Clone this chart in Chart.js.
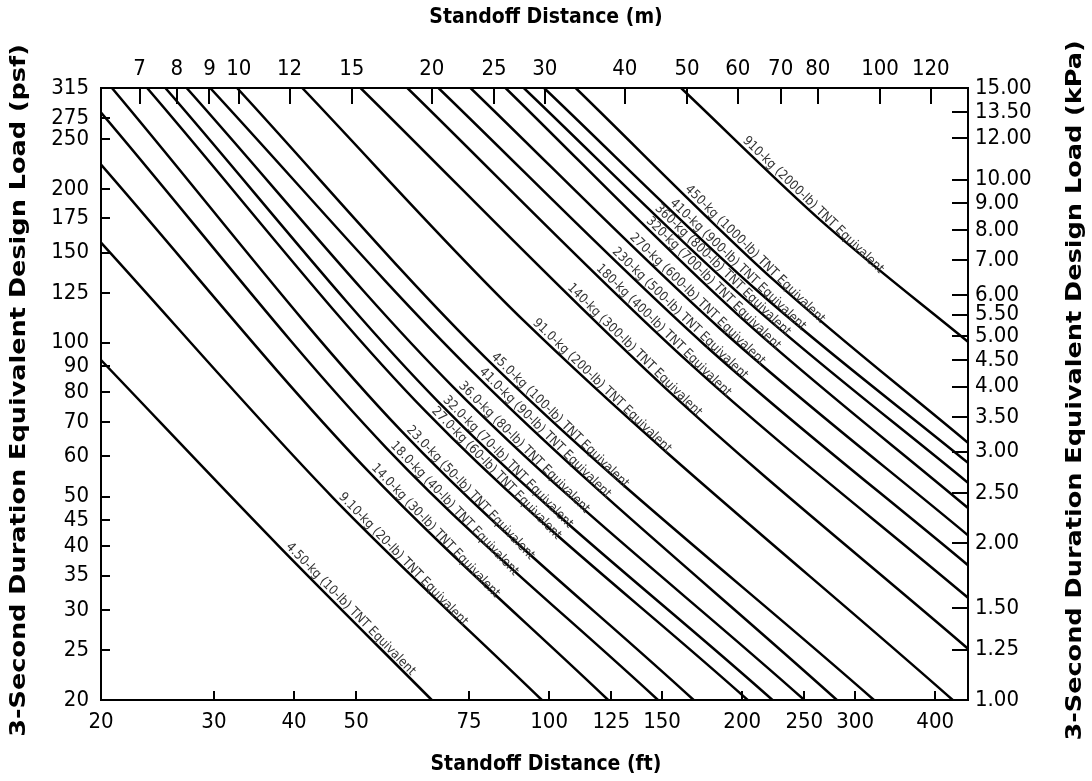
<!DOCTYPE html>
<html>
<head>
<meta charset="utf-8">
<title>Standoff distance vs design load</title>
<script src="https://cdn.jsdelivr.net/npm/chart.js@4.4.1/dist/chart.umd.min.js"></script>
<style>
  html, body { margin: 0; padding: 0; background: #fff; }
  #wrap { width: 1092px; height: 781px; }
</style>
</head>
<body>
<div id="wrap"><canvas id="blastChart" width="1092" height="781"></canvas></div>
<script>
// charge sizes, one curve each
const charges = [
  '4.50-kg (10-lb)', '9.10-kg (20-lb)', '14.0-kg (30-lb)', '18.0-kg (40-lb)', '23.0-kg (50-lb)',
  '27.0-kg (60-lb)', '32.0-kg (70-lb)', '36.0-kg (80-lb)', '41.0-kg (90-lb)', '45.0-kg (100-lb)',
  '91.0-kg (200-lb)', '140-kg (300-lb)', '180-kg (400-lb)', '230-kg (500-lb)', '270-kg (600-lb)',
  '320-kg (700-lb)', '360-kg (800-lb)', '410-kg (900-lb)', '450-kg (1000-lb)', '910-kg (2000-lb)'
];

// standoff distance (ft), per curve
const distFt = [
  [20, 38.1, 65.6], [20, 45.9, 97.4], [20, 51.5, 123.6], [20, 55.7, 147.8], [20.8, 58.6, 168],
  [23.6, 64.3, 204], [25.2, 67.1, 223], [27.2, 70.8, 250], [29.6, 75.9, 281], [32.6, 79.6, 321],
  [41.2, 91.7, 426], [50.8, 151.8, 450], [60.1, 165, 450], [67.2, 174.8, 450], [75.4, 184.8, 450],
  [85.5, 196.8, 450], [91.3, 203.2, 450], [98.2, 211, 450], [110, 223.4, 450], [160.6, 270, 450]
];

// design load (psf) at those distances
const loadPsf = [
  [92.5, 39.7, 20], [157, 49.9, 20], [223, 57.1, 20], [282, 62.3, 20], [315, 67.5, 20],
  [315, 73.2, 20], [315, 76.7, 20], [315, 82, 20], [315, 87.8, 20], [315, 93.4, 20],
  [315, 109.8, 20], [315, 81.5, 25.2], [315, 91.5, 31.7], [315, 99, 36.7], [315, 106.5, 42.0],
  [315, 113.5, 47.5], [315, 121, 53.2], [315, 126.5, 58.2], [315, 133, 63.7], [315, 170, 100.4]
];

// where along each curve (ft) its label starts
const labelAt = [38.4, 46.4, 52.2, 55.9, 59.2, 64.8, 67.5, 71.4, 76.9, 80.3,
                 93.2, 105.5, 117, 124, 132, 140, 144.5, 152.5, 161, 198];

const ftTicks = [20, 30, 40, 50, 75, 100, 125, 150, 200, 250, 300, 400];
const mTicks = [7, 8, 9, 10, 12, 15, 20, 25, 30, 40, 50, 60, 70, 80, 100, 120];
const psfTicks = [20, 25, 30, 35, 40, 45, 50, 60, 70, 80, 90, 100, 125, 150, 175, 200, 250, 275, 315];
const kpaTicks = [1, 1.25, 1.5, 2, 2.5, 3, 3.5, 4, 4.5, 5, 5.5, 6, 7, 8, 9, 10, 12, 13.5, 15];

const FT_PER_M = 3.28084;
const FONT = '"DejaVu Sans Condensed", "DejaVu Sans", sans-serif';

Chart.defaults.color = '#000';
Chart.defaults.font.family = FONT;

// axis title; vertical ones read bottom to top and are a bit stretched along the text
function axisTitle(ctx, text, cx, cy, vertical) {
  ctx.save();
  ctx.translate(cx, cy);
  if (vertical) {
    ctx.rotate(-Math.PI / 2);
    ctx.scale(1.29, 1);
  }
  ctx.font = 'bold ' + (vertical ? 22 : 21) + 'px ' + FONT;
  ctx.fillStyle = '#000';
  ctx.textAlign = 'center';
  ctx.textBaseline = 'middle';
  ctx.fillText(text, 0, 0);
  ctx.restore();
}

// inward tick marks on all four sides + the axis titles
const frameExtras = {
  id: 'frameExtras',
  afterDraw(chart) {
    const { ctx, chartArea: a, scales, width, height } = chart;
    ctx.save();
    ctx.strokeStyle = '#000';
    ctx.lineWidth = 2;
    ctx.beginPath();
    scales.x.ticks.forEach(t => {
      const p = Math.round(scales.x.getPixelForValue(t.value));
      ctx.moveTo(p, a.bottom); ctx.lineTo(p, a.bottom - 9);
    });
    scales.x2.ticks.forEach(t => {
      const p = Math.round(scales.x2.getPixelForValue(t.value));
      ctx.moveTo(p, a.top); ctx.lineTo(p, a.top + 16);
    });
    scales.y.ticks.forEach(t => {
      const p = Math.round(scales.y.getPixelForValue(t.value));
      ctx.moveTo(a.left, p); ctx.lineTo(a.left + 9, p);
    });
    scales.y2.ticks.forEach(t => {
      const p = Math.round(scales.y2.getPixelForValue(t.value));
      ctx.moveTo(a.right, p); ctx.lineTo(a.right - 16, p);
    });
    ctx.stroke();
    ctx.restore();

    axisTitle(ctx, 'Standoff Distance (m)', width / 2, 18, false);
    axisTitle(ctx, 'Standoff Distance (ft)', width / 2, height - 16, false);
    axisTitle(ctx, '3-Second Duration Equivalent Design Load (psf)', 19, height / 2, true);
    axisTitle(ctx, '3-Second Duration Equivalent Design Load (kPa)', 1075, height / 2, true);
  }
};

// point on the drawn bezier at a given pixel x, plus its direction
function onCurve(meta, px) {
  const pts = meta.data;
  let j = 0;
  while (j < pts.length - 2 && pts[j + 1].x < px) j++;
  const a = pts[j], b = pts[j + 1];
  const P = [[a.x, a.y], [a.cp2x ?? a.x, a.cp2y ?? a.y], [b.cp1x ?? b.x, b.cp1y ?? b.y], [b.x, b.y]];
  const bez = (t, k) => {
    const u = 1 - t;
    return u * u * u * P[0][k] + 3 * u * u * t * P[1][k] + 3 * u * t * t * P[2][k] + t * t * t * P[3][k];
  };
  let lo = 0, hi = 1;
  for (let n = 0; n < 40; n++) {
    const m = (lo + hi) / 2;
    if (bez(m, 0) < px) lo = m; else hi = m;
  }
  const t = (lo + hi) / 2;
  const t2 = Math.min(1, t + 0.01), t1 = Math.max(0, t - 0.01);
  return { x: bez(t, 0), y: bez(t, 1), ang: Math.atan2(bez(t2, 1) - bez(t1, 1), bez(t2, 0) - bez(t1, 0)) };
}

const lineLabels = {
  id: 'lineLabels',
  afterDatasetsDraw(chart) {
    const { ctx, scales: { x } } = chart;
    ctx.save();
    ctx.font = '13px ' + FONT;
    ctx.fillStyle = '#333';
    ctx.textAlign = 'left';
    ctx.textBaseline = 'alphabetic';
    chart.data.datasets.forEach((ds, i) => {
      const p = onCurve(chart.getDatasetMeta(i), x.getPixelForValue(labelAt[i]));
      ctx.save();
      ctx.translate(p.x, p.y);
      ctx.rotate(p.ang);
      ctx.fillText(ds.label + ' TNT Equivalent', 0, -4);
      ctx.restore();
    });
    ctx.restore();
  }
};

const datasets = charges.map((name, i) => ({
  label: name,
  data: distFt[i].map((ft, j) => ({ x: ft, y: loadPsf[i][j] })),
  borderColor: '#000',
  borderWidth: 2.5,
  pointRadius: 0,
  fill: false,
  cubicInterpolationMode: 'monotone',
  xAxisID: 'x',
  yAxisID: 'y'
}));

const edge = { display: true, color: '#000', width: 2 };
const noGrid = { display: false, drawTicks: false };
const tickFont = { size: 22 };

new Chart(document.getElementById('blastChart'), {
  type: 'line',
  data: { datasets },
  options: {
    responsive: false,
    animation: false,
    layout: { padding: 0 },
    plugins: { legend: { display: false }, tooltip: { enabled: false } },
    scales: {
      x: {
        type: 'logarithmic', position: 'bottom', min: 20, max: 450,
        afterBuildTicks: s => { s.ticks = ftTicks.map(v => ({ value: v })); },
        afterFit: s => { s.height = 81; },
        ticks: { autoSkip: false, maxRotation: 0, padding: 9, font: tickFont, callback: v => String(v) },
        grid: noGrid, border: edge, title: { display: false }
      },
      x2: {
        type: 'logarithmic', position: 'top', min: 20 / FT_PER_M, max: 450 / FT_PER_M,
        afterBuildTicks: s => { s.ticks = mTicks.map(v => ({ value: v })); },
        afterFit: s => { s.height = 88; },
        ticks: { autoSkip: false, maxRotation: 0, padding: 6, font: tickFont, callback: v => String(v) },
        grid: noGrid, border: edge, title: { display: false }
      },
      y: {
        type: 'logarithmic', position: 'left', min: 20, max: 315,
        afterBuildTicks: s => { s.ticks = psfTicks.map(v => ({ value: v })); },
        afterFit: s => { s.width = 101; },
        ticks: { autoSkip: false, padding: 12, font: tickFont, callback: v => String(v) },
        grid: noGrid, border: edge, title: { display: false }
      },
      y2: {
        type: 'logarithmic', position: 'right', min: 1, max: 15,
        afterBuildTicks: s => { s.ticks = kpaTicks.map(v => ({ value: v })); },
        afterFit: s => { s.width = 124; },
        ticks: { autoSkip: false, padding: 7, font: tickFont, callback: v => Number(v).toFixed(2) },
        grid: noGrid, border: edge, title: { display: false }
      }
    }
  },
  plugins: [lineLabels, frameExtras]
});
</script>
</body>
</html>
